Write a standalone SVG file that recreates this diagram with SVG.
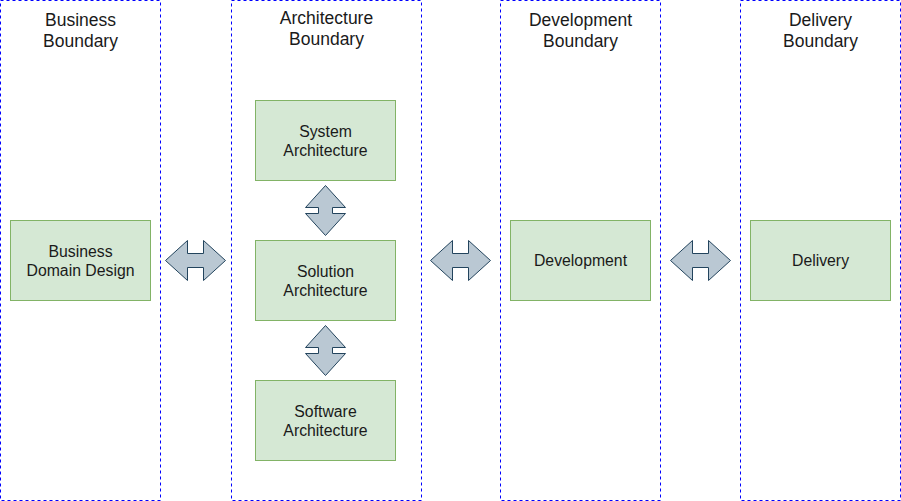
<svg xmlns="http://www.w3.org/2000/svg" width="901" height="501" viewBox="0 0 901 501">
<style>
.bnd{fill:none;stroke:#0000ff;stroke-width:1;stroke-dasharray:3 3}
.box{fill:#d5e8d4;stroke:#82b366;stroke-width:1}
.arr{fill:#bac8d3;stroke:#23445d;stroke-width:1;stroke-linejoin:miter}
.t{font-family:"Liberation Sans",Arial,sans-serif;fill:#1a1a1a;text-anchor:middle}
.tt{font-size:17.5px}
.bt{font-size:15.8px}
</style>
<rect width="901" height="501" fill="#ffffff"/>
<g id="business-boundary">
<rect class="bnd" x="0.5" y="0.5" width="160" height="500"/>
<text class="t tt" x="80.5" y="26">Business</text>
<text class="t tt" x="80.5" y="47">Boundary</text>
</g>
<g id="architecture-boundary">
<rect class="bnd" x="231.5" y="0.5" width="190" height="500"/>
<text class="t tt" x="326.5" y="24">Architecture</text>
<text class="t tt" x="326.5" y="45">Boundary</text>
</g>
<g id="development-boundary">
<rect class="bnd" x="500.5" y="0.5" width="160" height="500"/>
<text class="t tt" x="580.5" y="26">Development</text>
<text class="t tt" x="580.5" y="47">Boundary</text>
</g>
<g id="delivery-boundary">
<rect class="bnd" x="740.5" y="0.5" width="160" height="500"/>
<text class="t tt" x="820.5" y="26">Delivery</text>
<text class="t tt" x="820.5" y="47">Boundary</text>
</g>
<g id="business-domain-design">
<rect class="box" x="10.5" y="220.5" width="140" height="80"/>
<text class="t bt" x="80.5" y="256.5">Business</text>
<text class="t bt" x="80.5" y="275.5">Domain Design</text>
</g>
<g id="system-architecture">
<rect class="box" x="255.5" y="100.5" width="140" height="80"/>
<text class="t bt" x="325.5" y="136.5">System</text>
<text class="t bt" x="325.5" y="155.5">Architecture</text>
</g>
<g id="solution-architecture">
<rect class="box" x="255.5" y="240.5" width="140" height="80"/>
<text class="t bt" x="325.5" y="276.5">Solution</text>
<text class="t bt" x="325.5" y="295.5">Architecture</text>
</g>
<g id="software-architecture">
<rect class="box" x="255.5" y="380.5" width="140" height="80"/>
<text class="t bt" x="325.5" y="416.5">Software</text>
<text class="t bt" x="325.5" y="435.5">Architecture</text>
</g>
<g id="development">
<rect class="box" x="510.5" y="220.5" width="140" height="80"/>
<text class="t bt" x="580.5" y="265.5">Development</text>
</g>
<g id="delivery">
<rect class="box" x="750.5" y="220.5" width="140" height="80"/>
<text class="t bt" x="820.5" y="265.5">Delivery</text>
</g>
<g id="connectors">
<defs>
<path id="harr" d="M0,20 L22,0 L22,13 L38,13 L38,0 L60,20 L38,40 L38,27 L22,27 L22,40 Z"/>
<path id="varr" d="M20,0 L40,22 L27,22 L27,28 L40,28 L20,50 L0,28 L13,28 L13,22 L0,22 Z"/>
</defs>
<use href="#harr" class="arr" x="165.5" y="240.5"/>
<use href="#harr" class="arr" x="430.5" y="240.5"/>
<use href="#harr" class="arr" x="670.5" y="240.5"/>
<use href="#varr" class="arr" x="305.5" y="185.5"/>
<use href="#varr" class="arr" x="305.5" y="325.5"/>
</g>
</svg>
